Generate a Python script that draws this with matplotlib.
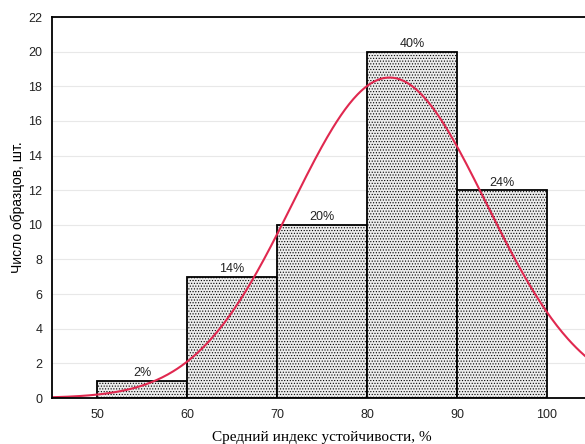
import numpy as np
import matplotlib.pyplot as plt

# histogram of samples by mean stability index
bin_left = [50, 60, 70, 80, 90]
counts = [1, 7, 10, 20, 12]
pct_labels = ["2%", "14%", "20%", "40%", "24%"]
bin_width = 10

# fitted normal curve parameters
n_total = 50
fit_mean = 82.5
fit_sd = 10.78

x_ticks = [50, 60, 70, 80, 90, 100]
y_ticks = list(range(0, 23, 2))

fig = plt.figure(figsize=(5.85, 4.44), dpi=100)
# axes run slightly past the right edge like the original screenshot
ax = fig.add_axes([52 / 585, 46 / 444, 540 / 585, 381 / 444])

ax.yaxis.grid(True, color="#e8e8e8", lw=0.8)
ax.set_axisbelow(True)

plt.rcParams["hatch.color"] = "#d4d4d4"
plt.rcParams["hatch.linewidth"] = 0.5
bars = ax.bar(bin_left, counts, width=bin_width, align="edge",
              facecolor="#ececec", edgecolor="black", lw=1.3, hatch="......")
for b in bars:
    b.set_edgecolor("black")

for xl, c, lab in zip(bin_left, counts, pct_labels):
    ax.text(xl + bin_width / 2, c + 0.08, lab, ha="center", va="bottom",
            fontsize=9, family="Liberation Sans", color="#222222")

xs = np.linspace(45, 106, 400)
ys = n_total * bin_width / (fit_sd * np.sqrt(2 * np.pi)) * np.exp(-0.5 * ((xs - fit_mean) / fit_sd) ** 2)
ax.plot(xs, ys, color="#e0284f", lw=1.5)

ax.set_xlim(45, 105)
ax.set_ylim(0, 22)
ax.set_xticks(x_ticks)
ax.set_yticks(y_ticks)
ax.tick_params(length=0, labelsize=9, pad=8, colors="#222222")
for lab in ax.get_xticklabels() + ax.get_yticklabels():
    lab.set_family("Liberation Sans")
ax.tick_params(axis="y", pad=7)

for s in ["left", "bottom", "top"]:
    ax.spines[s].set_linewidth(1.3)
ax.spines["right"].set_visible(False)

ax.set_xlabel("Средний индекс устойчивости, %", family="Liberation Serif",
              fontsize=11, labelpad=7)
ax.set_ylabel("Число образцов, шт.", family="Liberation Sans", fontsize=10,
              labelpad=2)

fig.savefig("out.png", dpi=100)
